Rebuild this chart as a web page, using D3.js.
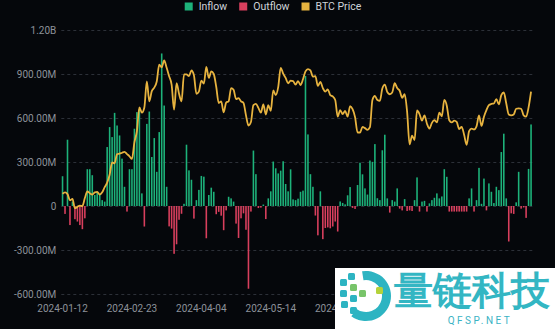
<!DOCTYPE html>
<html><head><meta charset="utf-8">
<script src="https://cdn.jsdelivr.net/npm/d3@7"></script>
<style>
html,body{margin:0;padding:0;background:#05070b;}
svg{display:block;}
text{font-family:Roboto,"Noto Sans",sans-serif;}
</style></head><body><svg id="c" width="555" height="329"></svg>
<script>
const dates = [
"2024-01-12","2024-01-16","2024-01-17","2024-01-18","2024-01-19","2024-01-22","2024-01-23","2024-01-24","2024-01-25","2024-01-26","2024-01-29","2024-01-30","2024-01-31",
"2024-02-01","2024-02-02","2024-02-05","2024-02-06","2024-02-07","2024-02-08","2024-02-09","2024-02-12","2024-02-13","2024-02-14","2024-02-15","2024-02-16","2024-02-20","2024-02-21","2024-02-22","2024-02-23","2024-02-26","2024-02-27","2024-02-28","2024-02-29",
"2024-03-01","2024-03-04","2024-03-05","2024-03-06","2024-03-07","2024-03-08","2024-03-11","2024-03-12","2024-03-13","2024-03-14","2024-03-15","2024-03-18","2024-03-19","2024-03-20","2024-03-21","2024-03-22","2024-03-25","2024-03-26","2024-03-27","2024-03-28",
"2024-04-01","2024-04-02","2024-04-03","2024-04-04","2024-04-05","2024-04-08","2024-04-09","2024-04-10","2024-04-11","2024-04-12","2024-04-15","2024-04-16","2024-04-17","2024-04-18","2024-04-19","2024-04-22","2024-04-23","2024-04-24","2024-04-25","2024-04-26","2024-04-29","2024-04-30",
"2024-05-01","2024-05-02","2024-05-03","2024-05-06","2024-05-07","2024-05-08","2024-05-09","2024-05-10","2024-05-13","2024-05-14","2024-05-15","2024-05-16","2024-05-17","2024-05-20","2024-05-21","2024-05-22","2024-05-23","2024-05-24","2024-05-28","2024-05-29","2024-05-30","2024-05-31",
"2024-06-03","2024-06-04","2024-06-05","2024-06-06","2024-06-07","2024-06-10","2024-06-11","2024-06-12","2024-06-13","2024-06-14","2024-06-17","2024-06-18","2024-06-20","2024-06-21","2024-06-24","2024-06-25","2024-06-26","2024-06-27","2024-06-28",
"2024-07-01","2024-07-02","2024-07-03","2024-07-05","2024-07-08","2024-07-09","2024-07-10","2024-07-11","2024-07-12","2024-07-15","2024-07-16","2024-07-17","2024-07-18","2024-07-19","2024-07-22","2024-07-23","2024-07-24","2024-07-25","2024-07-26","2024-07-29","2024-07-30","2024-07-31",
"2024-08-01","2024-08-02","2024-08-05","2024-08-06","2024-08-07","2024-08-08","2024-08-09","2024-08-12","2024-08-13","2024-08-14","2024-08-15","2024-08-16","2024-08-19","2024-08-20","2024-08-21","2024-08-22","2024-08-23","2024-08-26","2024-08-27","2024-08-28","2024-08-29","2024-08-30",
"2024-09-03","2024-09-04","2024-09-05","2024-09-06","2024-09-09","2024-09-10","2024-09-11","2024-09-12","2024-09-13","2024-09-16","2024-09-17","2024-09-18","2024-09-19","2024-09-20","2024-09-23","2024-09-24","2024-09-25","2024-09-26","2024-09-27","2024-09-30",
"2024-10-01","2024-10-02","2024-10-03","2024-10-04","2024-10-07","2024-10-08","2024-10-09","2024-10-10","2024-10-11","2024-10-14"
];
// millions USD
const inflow = [
203,0,452,0,30,0,0,0,0,0,
251,251,210,75,97,75,40,30,402,538,
470,635,549,481,323,131,0,251,251,527,
640,660,86,0,560,644,334,463,233,504,
1040,685,131,0,0,0,0,0,0,15,
418,243,179,0,40,110,205,200,0,75,
125,97,0,0,0,0,0,63,52,30,
0,0,0,0,0,0,0,378,217,0,
0,10,0,52,100,303,257,222,241,305,
150,100,250,45,40,50,97,105,887,488,
217,131,0,0,100,0,0,0,0,0,
0,0,31,21,11,73,129,0,0,143,
295,216,120,78,310,301,422,53,40,380,
486,52,0,40,30,120,0,0,47,0,
0,0,40,195,0,30,35,0,18,40,
56,86,52,65,251,199,0,0,0,0,
0,0,0,0,52,120,0,40,260,15,
187,0,154,97,20,131,108,368,493,52,
0,0,0,25,233,0,0,0,253,556
];
const outflow = [
0,-54,0,-130,0,-90,-106,-130,-158,-84,
0,0,0,0,0,0,0,0,0,0,
0,0,0,0,0,0,-38,0,0,0,
0,0,0,-140,0,0,0,0,0,0,
0,0,0,-139,-154,-326,-261,-94,-53,0,
0,0,0,-86,0,0,0,0,-220,0,
0,0,-56,-40,-66,-165,-30,0,0,0,
-120,-218,-84,-50,-162,-564,-38,0,0,-14,
-11,0,-89,0,0,0,0,0,0,0,
0,0,0,0,0,0,0,0,0,0,
0,0,-65,-200,0,-226,-150,-146,-152,-140,
-106,-174,0,0,0,0,0,-13,-20,0,
0,0,0,0,0,0,0,0,0,0,
0,0,-45,0,0,0,-18,-30,0,-34,
-30,-34,0,0,-38,0,0,-38,0,0,
0,0,0,0,0,0,-38,-38,-38,-38,
-38,-38,-38,-38,0,0,-38,0,0,0,
0,-30,0,0,0,0,0,0,0,0,
-242,-50,-54,0,0,-18,-10,-81,0,0
];
// thousands USD
const btcPrice = [
42.8,43.1,42.7,41.3,41.6,39.5,39.8,40.1,40.0,41.8,43.3,42.9,42.6,
43.1,43.2,42.6,43.1,44.3,45.3,47.1,49.9,49.7,51.8,51.9,52.1,52.3,51.8,51.3,50.7,54.5,57.0,62.4,61.2,
62.4,68.3,63.8,66.1,66.9,68.3,72.1,71.5,73.1,71.4,69.5,67.6,61.9,67.9,65.5,63.8,69.9,69.9,69.5,70.8,
69.7,65.5,66.0,68.5,67.8,71.6,69.1,70.6,70.0,67.1,63.4,63.8,61.3,63.5,63.8,66.8,66.4,64.3,64.5,63.8,63.4,60.6,
58.3,59.1,62.9,63.2,62.3,61.2,63.1,60.8,62.9,61.6,66.3,65.2,67.0,71.4,70.1,69.1,67.9,68.5,68.4,67.6,68.4,67.5,
68.8,70.6,71.1,70.8,69.4,69.5,67.3,68.2,66.8,66.0,66.5,65.2,64.9,64.1,60.3,61.8,60.9,61.6,60.3,
62.7,62.0,60.2,56.7,56.7,58.0,57.7,57.3,57.9,64.1,65.0,64.1,63.9,66.7,67.6,65.9,65.4,65.8,67.9,66.8,66.2,64.6,
65.4,61.4,54.0,56.0,55.0,61.7,60.9,59.4,60.6,58.7,57.6,58.9,59.5,59.0,61.2,60.4,64.1,62.8,59.5,59.0,59.4,59.1,
57.5,58.0,56.2,53.9,57.0,57.6,57.4,58.1,60.6,58.2,60.3,61.8,62.9,63.2,63.3,64.3,63.1,65.2,65.8,63.3,
60.8,60.6,60.8,62.1,62.2,62.1,60.6,60.3,62.4,66.0
];
const yTickValues = [-600,-300,0,300,600,900,1200];
const yTickLabels = ["-600.00M","-300.00M","0","300.00M","600.00M","900.00M","1.20B"];
// visible tick labels (later ones are hidden under the watermark in the reference)
const xTickLabels = ["2024-01-12","2024-02-23","2024-04-04","2024-05-14","2024-06-25"];
const seriesNames = ["Inflow","Outflow","BTC Price"];
const seriesColors = ["#1db27a","#d83f5d","#e7b33f"];

const svg = d3.select("#c");
const L = 61.3, R = 532.3, T = 30, B = 294;
const x = d3.scaleBand().domain(dates).range([L, R]).paddingInner(0.36).paddingOuter(0.18);
const y = d3.scaleLinear().domain([-600, 1200]).range([B, T]);
const yP = d3.scaleLinear().domain([20, 80]).range([B, T]);

// y axis with dashed grid
const yAxis = d3.axisLeft(y).tickValues(yTickValues)
  .tickFormat((d, i) => yTickLabels[i]).tickSize(-(R - L)).tickPadding(5);
const gy = svg.append("g").attr("transform", `translate(${L},0)`).call(yAxis);
gy.select(".domain").remove();
gy.selectAll("line").attr("stroke", "#2c3038").attr("stroke-dasharray", "3,3").attr("stroke-width", 1);
gy.selectAll("text").attr("fill", "#8d929a").attr("font-size", "10px");

// x axis
const xAxis = d3.axisBottom(x).tickValues(xTickLabels).tickSize(0).tickPadding(11);
const gx = svg.append("g").attr("transform", `translate(0,${B})`).call(xAxis);
gx.select(".domain").remove();
gx.selectAll("text").attr("fill", "#8d929a").attr("font-size", "10px");

// bars
const bw = x.bandwidth();
svg.append("g").selectAll("rect").data(dates.map((d, i) => ({d, v: inflow[i]})).filter(o => o.v > 0))
  .join("rect").attr("x", o => x(o.d)).attr("width", bw)
  .attr("y", o => y(o.v)).attr("height", o => y(0) - y(o.v)).attr("fill", seriesColors[0]);
svg.append("g").selectAll("rect").data(dates.map((d, i) => ({d, v: outflow[i]})).filter(o => o.v < 0))
  .join("rect").attr("x", o => x(o.d)).attr("width", bw)
  .attr("y", y(0)).attr("height", o => y(o.v) - y(0)).attr("fill", seriesColors[1]);

// price line
const line = d3.line().x((d, i) => x(dates[i]) + bw / 2).y(d => yP(d)).curve(d3.curveMonotoneX);
svg.append("path").datum(btcPrice).attr("d", line).attr("fill", "none")
  .attr("stroke", seriesColors[2]).attr("stroke-width", 1.8).attr("stroke-linejoin", "round");

// legend
const lg = svg.append("g");
let cx = 0;
seriesNames.forEach((n, i) => {
  const g = lg.append("g").attr("transform", `translate(${cx},0)`);
  g.append("rect").attr("x", 0).attr("y", 2.5).attr("width", 8).attr("height", 8).attr("fill", seriesColors[i]);
  const t = g.append("text").attr("x", 14).attr("y", 10).attr("font-size", "10.5px").attr("fill", "#cfd3d9").text(n);
  cx += 14 + t.node().getComputedTextLength() + 12;
});
const lw = cx - 12;
lg.attr("transform", `translate(${273 - lw / 2},0)`);

// watermark
const wm = svg.append("g");
wm.append("rect").attr("x", 335).attr("y", 268).attr("width", 220).attr("height", 61).attr("fill", "#ffffff");
wm.append("path").attr("transform", "translate(366,296)")
  .attr("d", d3.arc().innerRadius(16).outerRadius(25).startAngle(-0.05 * Math.PI).endAngle(1.2 * Math.PI)())
  .attr("fill", "#2db4c2");
const sq = [[340,279,"#2db4c2"],[348,273,"#2db4c2"],[340,290,"#2db4c2"],[350,284,"#78c46a"],[359,290,"#78c46a"],
            [350,295,"#2db4c2"],[341,301,"#2db4c2"],[350,307,"#2db4c2"],[358,313,"#2db4c2"],[376,287,"#b4d23a"]];
wm.selectAll("rect.s").data(sq).join("rect").attr("class", "s")
  .attr("x", d => d[0]).attr("y", d => d[1]).attr("width", 7).attr("height", 7).attr("rx", 1.5).attr("fill", d => d[2]);
wm.append("text").attr("x", 394).attr("y", 304).attr("font-size", "39px").attr("font-weight", "700")
  .attr("font-family", "'Noto Sans CJK SC'").attr("fill", "#33b6c3").text("量链科技");
wm.append("text").attr("x", 480).attr("y", 324).attr("text-anchor", "middle").attr("font-size", "10px")
  .attr("letter-spacing", "2.5px").attr("fill", "#3ab3c4").text("QFSP.NET");
</script></body></html>
